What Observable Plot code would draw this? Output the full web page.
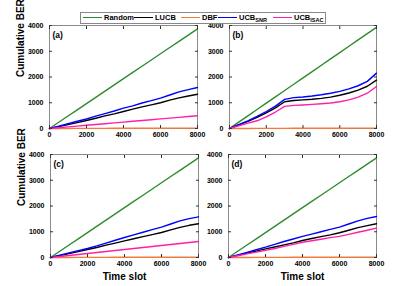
<!DOCTYPE html>
<html>
<head>
<meta charset="utf-8">
<script src="https://cdn.jsdelivr.net/npm/d3@7"></script>
<script src="https://cdn.jsdelivr.net/npm/@observablehq/plot@0.6"></script>
<style>
  html, body { margin: 0; padding: 0; background: #fff; }
  #root { position: relative; width: 395px; height: 286px; overflow: hidden; font-family: "Liberation Sans", Arial, sans-serif; }
  .pnl { position: absolute; }
  #legend { position: absolute; left: 80px; top: 12px; width: 244px; height: 10px; border: 1px solid #888; background: #fff; z-index: 5; font-weight: bold; font-size: 7.5px; color: #000; }
  .li { position: absolute; top: 0; height: 9px; display: flex; align-items: center; white-space: nowrap; line-height: 1; }
  .ln { display: inline-block; flex: none; width: 19px; height: 1.5px; margin-right: 2px; }
  .li sub { font-size: 5.5px; vertical-align: -2px; line-height: 0; }
</style>
</head>
<body>
<div id="root"></div>
<script>
// ---- data ----
const timeSlots = [0, 500, 1000, 1500, 2000, 2500, 3000, 3500, 4000, 4500, 5000, 5500, 6000, 6500, 7000, 7500, 8000];
const seriesNames = ["Random", "LUCB", "DBF", "UCB_SNR", "UCB_ISAC"];
const seriesColors = ["#2e8b2e", "#000000", "#f47a3a", "#0000ff", "#ff1fa8"];
const xTicks = [0, 2000, 4000, 6000, 8000];
const yTicks = [0, 1000, 2000, 3000, 4000];
const panelLabels = ["(a)", "(b)", "(c)", "(d)"];

// panel (a)
const randomA = [0, 242, 484, 726, 968, 1209, 1451, 1693, 1935, 2177, 2419, 2661, 2903, 3144, 3386, 3628, 3870];
const lucbA   = [0, 75, 150, 230, 310, 400, 490, 570, 660, 750, 840, 920, 1000, 1100, 1190, 1260, 1330];
const dbfA    = [0, 1, 2, 3, 4, 5, 6, 7, 8, 9, 10, 11, 12, 13, 14, 15, 16];
const snrA    = [0, 90, 185, 280, 370, 480, 580, 680, 790, 880, 990, 1080, 1180, 1300, 1420, 1510, 1590];
const isacA   = [0, 31, 62, 93, 124, 155, 186, 217, 248, 279, 310, 341, 372, 403, 434, 465, 496];
// panel (b)
const randomB = [0, 246, 491, 737, 983, 1228, 1474, 1720, 1965, 2211, 2456, 2702, 2948, 3193, 3439, 3684, 3930];
const lucbB   = [0, 140, 280, 430, 610, 800, 1040, 1090, 1110, 1135, 1170, 1220, 1290, 1380, 1490, 1640, 1880];
const dbfB    = [0, 1, 2, 3, 4, 5, 6, 7, 8, 9, 10, 11, 12, 13, 14, 15, 16];
const snrB    = [0, 150, 300, 470, 660, 870, 1130, 1200, 1225, 1260, 1310, 1370, 1440, 1540, 1660, 1830, 2150];
const isacB   = [0, 100, 210, 300, 450, 640, 860, 900, 915, 935, 960, 990, 1040, 1110, 1220, 1370, 1630];
// panel (c)
const randomC = [0, 242, 484, 726, 968, 1209, 1451, 1693, 1935, 2177, 2419, 2661, 2903, 3144, 3386, 3628, 3870];
const lucbC   = [0, 75, 150, 230, 310, 390, 480, 560, 645, 730, 810, 890, 970, 1070, 1170, 1250, 1310];
const dbfC    = [0, 1, 2, 3, 4, 5, 6, 7, 8, 9, 10, 11, 12, 13, 14, 15, 16];
const snrC    = [0, 90, 180, 265, 350, 450, 560, 670, 775, 880, 980, 1080, 1180, 1300, 1420, 1510, 1580];
const isacC   = [0, 39, 78, 116, 155, 194, 233, 271, 310, 349, 388, 426, 465, 504, 543, 581, 620];
// panel (d)
const randomD = [0, 242, 484, 726, 968, 1209, 1451, 1693, 1935, 2177, 2419, 2661, 2903, 3144, 3386, 3628, 3870];
const lucbD   = [0, 85, 170, 250, 335, 410, 490, 570, 660, 740, 810, 880, 960, 1060, 1160, 1240, 1310];
const dbfD    = [0, 1, 2, 3, 4, 5, 6, 7, 8, 9, 10, 11, 12, 13, 14, 15, 16];
const snrD    = [0, 100, 200, 300, 400, 510, 620, 720, 820, 910, 1000, 1090, 1180, 1300, 1420, 1520, 1590];
const isacD   = [0, 70, 140, 210, 275, 350, 430, 510, 590, 650, 710, 770, 820, 900, 980, 1060, 1140];

// ---- build ----
function rowsOf(arrs) {
  const rows = [];
  arrs.forEach((vals, k) => vals.forEach((v, i) => rows.push({t: timeSlots[i], v, s: seriesNames[k]})));
  return rows;
}
const panels = [
  {rows: rowsOf([randomA, lucbA, dbfA, snrA, isacA]), label: panelLabels[0], left: 0,   top: 0,   w: 200, h: 143, mL: 49, mR: 3,  mT: 25, mB: 15, yl: true,  xl: false},
  {rows: rowsOf([randomB, lucbB, dbfB, snrB, isacB]), label: panelLabels[1], left: 200, top: 0,   w: 195, h: 143, mL: 29, mR: 19, mT: 25, mB: 15, yl: false, xl: false},
  {rows: rowsOf([randomC, lucbC, dbfC, snrC, isacC]), label: panelLabels[2], left: 0,   top: 143, w: 200, h: 143, mL: 50, mR: 2,  mT: 11, mB: 29, yl: true,  xl: true},
  {rows: rowsOf([randomD, lucbD, dbfD, snrD, isacD]), label: panelLabels[3], left: 200, top: 143, w: 195, h: 143, mL: 28, mR: 19, mT: 11, mB: 29, yl: false, xl: true}
];

const root = document.getElementById("root");
const font = "Liberation Sans, Arial, sans-serif";

for (const p of panels) {
  const marks = [
    Plot.frame({stroke: "#8a8a8a", strokeWidth: 1}),
    Plot.line(p.rows, {x: "t", y: "v", stroke: "s", strokeWidth: 1.4}),
    // tick marks (inward), mirrored on all sides
    Plot.axisX(xTicks, {anchor: "bottom", tickSize: -3, tickFormat: () => "", label: null, stroke: "#333"}),
    Plot.axisX(xTicks, {anchor: "top", tickSize: -3, tickFormat: () => "", label: null, stroke: "#333"}),
    Plot.axisY(yTicks, {anchor: "left", tickSize: -3, tickFormat: () => "", label: null, stroke: "#333"}),
    Plot.axisY(yTicks, {anchor: "right", tickSize: -3, tickFormat: () => "", label: null, stroke: "#333"}),
    // tick labels
    Plot.axisX(xTicks, {anchor: "bottom", tickSize: 0, tickPadding: 4, label: null, fontSize: 7, fontWeight: "bold", tickFormat: d => String(d)}),
    Plot.axisY(yTicks, {anchor: "left", tickSize: 0, tickPadding: 6, label: null, fontSize: 7, fontWeight: "bold", tickFormat: d => String(d)}),
    Plot.text([p.label], {frameAnchor: "top-left", dx: 3, dy: 6, fontSize: 8.5, fontWeight: "bold", text: d => d})
  ];
  if (p.yl) marks.push(Plot.text(["Cumulative BER"], {frameAnchor: "left", dx: -29, rotate: -90, fontSize: 10, fontWeight: "bold", text: d => d}));
  if (p.xl) marks.push(Plot.text(["Time slot"], {frameAnchor: "bottom", dy: 22, fontSize: 10, fontWeight: "bold", text: d => d}));

  const svg = Plot.plot({
    width: p.w, height: p.h,
    marginLeft: p.mL, marginRight: p.mR, marginTop: p.mT, marginBottom: p.mB,
    x: {domain: [0, 8000]},
    y: {domain: [0, 4000]},
    color: {domain: seriesNames, range: seriesColors},
    style: {background: "transparent", fontFamily: font, overflow: "visible", color: "#000"},
    marks
  });
  const div = document.createElement("div");
  div.className = "pnl";
  div.style.left = p.left + "px";
  div.style.top = p.top + "px";
  div.appendChild(svg);
  root.appendChild(div);
}

// ---- legend ----
const legendPos = [2, 53, 100, 137, 192];
const legendHTML = ["Random", "LUCB", "DBF", "UCB<sub>SNR</sub>", "UCB<sub>ISAC</sub>"];
const legend = document.createElement("div");
legend.id = "legend";
seriesNames.forEach((name, i) => {
  const item = document.createElement("div");
  item.className = "li";
  item.style.left = legendPos[i] + "px";
  item.innerHTML = `<span class="ln" style="background:${seriesColors[i]}"></span><span>${legendHTML[i]}</span>`;
  legend.appendChild(item);
});
root.appendChild(legend);
</script>
</body>
</html>
